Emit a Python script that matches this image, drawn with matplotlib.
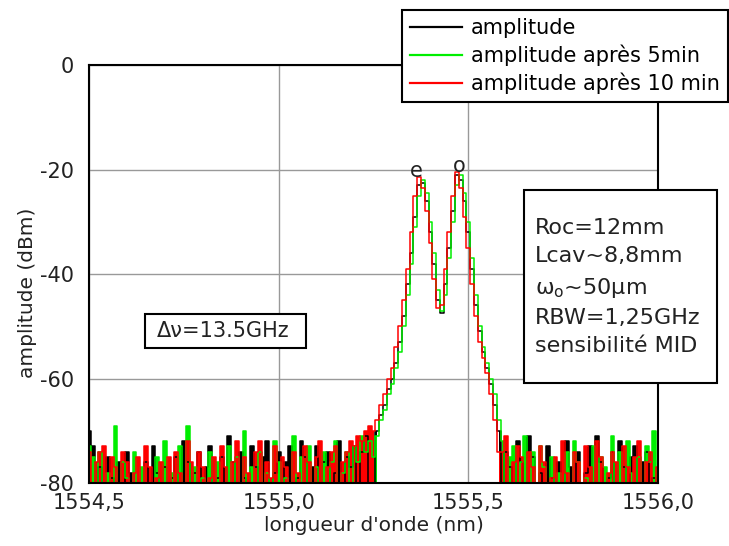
import numpy as np
import matplotlib
matplotlib.use("Agg")
import matplotlib.pyplot as plt
from matplotlib.patches import Rectangle

plt.rcParams['font.family'] = ['DejaVu Sans']

# valeurs (dBm), bruit gauche / pics / bruit droit
bk_left = [
    -70, -73, -82, -77, -82, -75, -79, -82, -76, -82, -74, -78, -82, -80, -82,
    -76, -82, -73, -78, -82, -77, -82, -79, -75, -82, -72, -76, -82, -78, -74,
    -82, -77, -73, -82, -79, -75, -82, -71, -76, -82, -74, -79, -82, -73, -77,
    -82, -75, -72, -82, -78, -74, -82, -76, -73, -82, -79, -72, -75, -82, -77,
    -73, -82, -76, -74, -82, -78, -72, -82, -75, -77, -73, -82, -74, -71, -82,
]
gr_left = [
    -73, -75, -82, -74, -82, -78, -82, -69, -82, -76, -79, -82, -74, -82, -77,
    -82, -80, -82, -75, -82, -72, -82, -78, -82, -73, -82, -69, -82, -77, -82,
    -79, -82, -74, -82, -76, -82, -80, -73, -82, -75, -82, -70, -82, -77, -82,
    -74, -82, -78, -82, -72, -76, -82, -79, -82, -71, -82, -75, -82, -73, -82,
    -77, -82, -74, -82, -76, -72, -82, -78, -74, -82, -73, -76, -71, -74, -72,
]
rd_left = [
    -74, -82, -76, -74, -73, -82, -75, -77, -82, -74, -76, -82, -78, -75, -82,
    -73, -77, -82, -79, -76, -82, -75, -82, -74, -78, -82, -72, -76, -82, -74,
    -77, -82, -79, -75, -82, -73, -77, -82, -76, -72, -82, -75, -78, -82, -74,
    -72, -82, -76, -79, -73, -82, -75, -77, -82, -74, -78, -82, -73, -76, -82,
    -75, -72, -82, -77, -74, -73, -82, -76, -74, -72, -73, -71, -72, -70, -69,
]

# 1555.25 -> 1555.58 nm, pas 0.01
bk_peak = [-82, -70, -67, -65, -62, -60, -57, -53, -48, -42, -36, -29, -23, -22.5,
           -26, -32, -38, -45, -47.5, -42, -35, -28, -21, -22, -26, -32, -39, -46,
           -51, -55, -58, -61, -65, -70]
gr_peak = [-75, -71, -68, -66, -63, -61, -58, -55, -50, -44, -38, -31, -25, -22,
           -24.5, -30, -36, -43, -47, -44, -37, -30, -23, -21, -24.5, -30, -37, -44,
           -50, -54, -57, -60, -63, -68]
rd_peak = [-70, -68, -65, -63, -60, -58, -54, -50, -45, -39, -32, -25, -21.5, -23.5,
           -28, -34, -41, -46.5, -46, -39, -32, -25, -20.5, -23.5, -29, -35, -42, -48,
           -53, -56, -59, -63, -68, -74]

bk_right = [
    -82, -74, -77, -82, -72, -76, -82, -71, -75, -82, -78, -82, -73, -79, -82,
    -76, -82, -72, -77, -82, -74, -82, -78, -73, -82, -71, -76, -82, -79, -74,
    -82, -72, -77, -82, -75, -73, -82, -76, -74, -82, -79, -82,
]
gr_right = [
    -72, -82, -75, -73, -82, -76, -71, -82, -74, -82, -73, -77, -82, -75, -82,
    -78, -82, -74, -82, -72, -76, -82, -79, -82, -73, -82, -75, -77, -82, -71,
    -82, -74, -82, -72, -78, -82, -75, -82, -73, -76, -70, -82,
]
rd_right = [
    -74, -71, -82, -76, -73, -75, -82, -74, -77, -82, -73, -76, -82, -79, -75,
    -82, -72, -78, -82, -74, -76, -82, -73, -77, -82, -72, -75, -82, -78, -74,
    -76, -82, -73, -77, -82, -75, -72, -82, -76, -74, -82, -77,
]

labels = ['amplitude', 'amplitude après 5min', 'amplitude après 10 min']
colors = ['#000000', '#00ee00', '#ff0000']
xticks = [1554.5, 1555.0, 1555.5, 1556.0]
xticklabels = ['1554,5', '1555,0', '1555,5', '1556,0']
yticks = [-80, -60, -40, -20, 0]
yticklabels = ['-80', '-60', '-40', '-20', '0']
params = 'Roc=12mm\nLcav~8,8mm\nω$_\\mathrm{o}$~50μm\nRBW=1,25GHz\nsensibilité MID'
delta_nu = 'Δν=13.5GHz'


def spectre(left, peak, right):
    wl = np.concatenate([
        np.linspace(1554.50, 1555.24, len(left)),
        np.linspace(1555.25, 1555.58, len(peak)),
        np.linspace(1555.59, 1556.00, len(right)),
    ])
    return wl, np.array(left + peak + right, dtype=float)


series = [spectre(bk_left, bk_peak, bk_right),
          spectre(gr_left, gr_peak, gr_right),
          spectre(rd_left, rd_peak, rd_right)]

fig = plt.figure(figsize=(7.29, 5.46), dpi=100)
ax = fig.add_axes([89 / 729, 1 - 483 / 546, 569 / 729, 418 / 546])

lines = []
for (wl, amp), lab, c in zip(series, labels, colors):
    # le bruit apparait comme des barres pleines sur l'original
    ax.fill_between(wl, amp, -85, where=amp <= -69, step='mid', color=c, lw=0)
    ln, = ax.plot(wl, amp, color=c, lw=1.1, drawstyle='steps-mid', label=lab)
    lines.append(ln)

ax.set_xlim(1554.5, 1556.0)
ax.set_ylim(-80, 0)
ax.set_xticks(xticks)
ax.set_xticklabels(xticklabels)
ax.set_yticks(yticks)
ax.set_yticklabels(yticklabels)
ax.tick_params(length=0, labelsize=15, colors='#222222')
ax.tick_params(axis='y', pad=11)
ax.tick_params(axis='x', pad=7)
ax.grid(True, color='#999999', lw=1)
ax.set_axisbelow(True)
for s in ax.spines.values():
    s.set_linewidth(1.5)
    s.set_color('black')
    s.set_zorder(5)

ax.set_xlabel("longueur d'onde (nm)", fontsize=14.5, color='#222222')
ax.set_ylabel('amplitude (dBm)', fontsize=14.5, color='#222222')
ax.xaxis.set_label_coords(0.5, -0.08)
ax.yaxis.set_label_coords(-0.092, 0.455)

# lettres au-dessus des pics
ax.text(1555.362, -20.3, 'e', fontsize=15, ha='center', va='center', color='#222222')
ax.text(1555.476, -19.4, 'o', fontsize=15, ha='center', va='center', color='#222222')

# cadres des annotations
fig.patches.append(Rectangle((145 / 729, 1 - 348 / 546), 161 / 729, 34 / 546,
                             transform=fig.transFigure, fc='white', ec='black',
                             lw=1.5, zorder=3))
fig.patches.append(Rectangle((524 / 729, 1 - 383 / 546), 193 / 729, 193 / 546,
                             transform=fig.transFigure, fc='white', ec='black',
                             lw=1.5, zorder=3))
fig.text(157 / 729, 1 - 331 / 546, delta_nu, fontsize=15, ha='left', va='center',
         color='#222222', zorder=4)
fig.text(535 / 729, 1 - 287 / 546, params, fontsize=16, ha='left', va='center',
         linespacing=1.5, color='#222222', zorder=4)

leg = fig.legend(handles=lines, labels=labels, loc='upper left',
                 bbox_to_anchor=(402 / 729, 1 - 10 / 546), fontsize=15,
                 frameon=True, fancybox=False, framealpha=1, edgecolor='black',
                 borderaxespad=0, borderpad=0.4, handlelength=2.5,
                 handletextpad=0.4, labelspacing=0.3)
leg.get_frame().set_linewidth(1.5)
for h in leg.legend_handles:
    h.set_linewidth(1.6)

fig.savefig('out.png', dpi=100)
